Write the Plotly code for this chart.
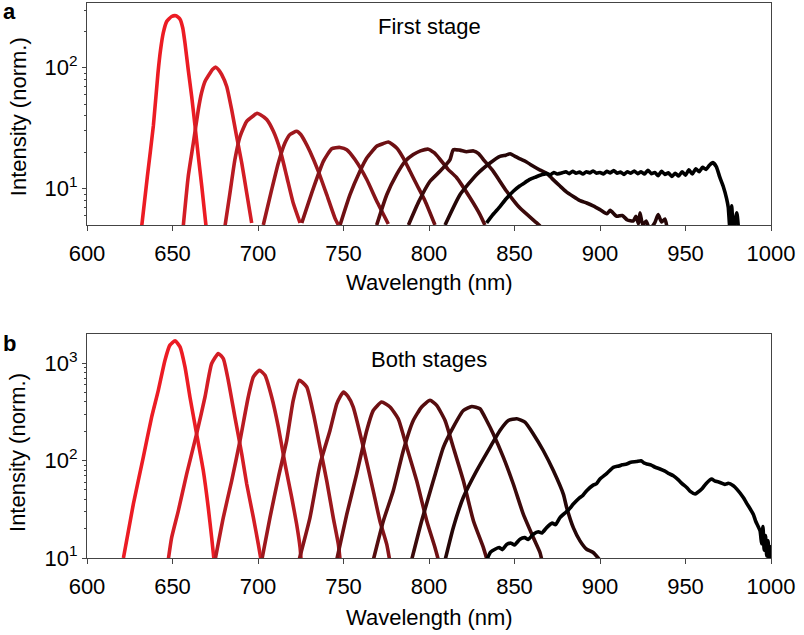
import plotly.graph_objects as go

# ---------------- data: panel a (first stage) ----------------
a_wl = [
    [632, 635.3, 638.8, 641.5, 643, 644.6, 646.6, 649.5, 652, 654.4, 656, 657.3, 659.2, 661.2, 663.2, 665.1, 667.1, 669.6],
    [656.3, 659.2, 662.2, 665.1, 667, 669, 671.9, 673.5, 675.4, 677, 678.8, 681.7, 684.6, 687.5, 690.5, 693.4, 696.3],
    [680.7, 683.6, 686.5, 689.5, 693.4, 697.3, 699.5, 701.2, 705.1, 709, 712.9, 716.8, 720.6, 724.6],
    [703.1, 708, 711.9, 715.8, 718.7, 722.6, 725, 727.5, 730.4, 735.3, 740.2, 745, 747],
    [725.6, 732.4, 738.2, 743.1, 745.5, 748, 751.9, 756.7, 763.6, 769.4, 776.2],
    [748, 753.8, 759.6, 763.6, 769.4, 773, 776.2, 781.1, 785, 788.9, 792.8, 797.7, 803.5],
    [769.4, 775.3, 781.1, 786, 790.8, 795, 799.6, 803, 806.4, 811, 816.2, 824, 829.8, 832.7],
    [788, 794, 800.6, 806.4, 812.3, 814.2, 818, 822, 826, 829, 831.8, 837.6, 845.4, 853.2, 863, 865],
    [809.4, 818.1, 827.9, 835.7, 841.5, 845, 847.4, 850.3, 853.2, 857, 861, 865, 868.8, 872, 876.6, 880, 884.4,
     888, 892.2, 896, 900, 904, 906, 909.8, 913, 916, 919.5, 921, 922.5, 923.4, 925, 927, 929, 932, 934, 936, 938, 939.5],
    [833.7, 837, 841.5, 845, 849.3, 853, 856, 859, 862, 865, 868.8, 871, 873, 875, 878, 880, 882, 884, 886, 888, 890,
     892, 894, 896, 898, 900, 902, 904, 906, 908, 910, 912, 914, 916, 918, 920, 922, 924, 926, 928, 930, 932, 934,
     936, 938, 940, 942, 944, 946, 948, 950, 952, 954, 956, 958, 960, 962, 964, 966, 968, 970, 972, 974, 975, 976,
     977, 978, 980, 981],
]
a_int = [
    [4.9, 12.6, 33, 90, 140, 194, 241, 265, 269, 252, 213, 160, 96, 58, 32.7, 18.5, 10.5, 4.9],
    [4.9, 12.6, 23.9, 45, 62, 77, 90, 97, 101, 96, 87.5, 70, 45, 27, 16.3, 9.2, 5.2],
    [4.9, 9.2, 17.4, 27, 36, 40, 42, 41, 37.3, 29.8, 21, 12.6, 7.6, 5.2],
    [5, 9.8, 16.3, 23.9, 28, 29.8, 28, 24.5, 20.3, 13.9, 8.9, 5.7, 5],
    [5.2, 10.1, 16.8, 21.4, 21.8, 21.9, 21, 17.4, 11.9, 7.9, 5.1],
    [5, 8.9, 13.9, 17.9, 22.4, 23.5, 24.3, 21.7, 17.9, 13.9, 10.8, 7.9, 5],
    [5, 8.9, 13.1, 16.8, 19.1, 20.5, 21.2, 19.8, 17.5, 14.5, 12.3, 8.4, 6.1, 5],
    [5, 7.8, 11.5, 13.9, 17.4, 21, 20.8, 20.2, 20.5, 19.5, 17.4, 13.9, 9.5, 6.9, 5.2, 4.9],
    [5, 8.9, 13.1, 16.3, 18.5, 18.9, 19.4, 18.5, 17.6, 16.6, 15.3, 14.2, 13.4, 12.1, 10.5, 9.5, 8.6,
     8.0, 7.6, 7.2, 6.7, 6.2, 6.6, 5.9, 6.0, 5.5, 5.4, 5.9, 5.1, 6.3, 5.0, 5.4, 4.6, 5.2, 6.1, 5.3, 5.6, 4.5],
    [5.2, 6.0, 7.1, 8.2, 9.5, 10.5, 11.2, 11.9, 12.4, 12.9, 13.3, 13.0, 13.6, 13.2, 13.5, 13.8, 13.3, 13.9, 13.4, 13.7, 13.2,
     13.8, 13.5, 14.0, 13.4, 13.6, 13.2, 13.9, 13.5, 14.1, 13.4, 13.7, 13.1, 13.8, 13.4, 14.0, 13.3, 13.8, 13.2, 14.2, 13.3, 13.6, 12.8,
     13.9, 13.1, 13.5, 12.6, 13.4, 12.7, 13.8, 12.9, 14.3, 13.2, 14.6, 13.8, 15.0, 14.4, 15.6, 16.4, 15.2, 12.5, 10.5, 8.3, 7.0, 4.6,
     7.2, 4.6, 6.3, 4.6],
]

# ---------------- data: panel b (both stages) ----------------
b_wl = [
    [621.3, 627.1, 632.9, 637.8, 641.7, 645.6, 648.5, 651.5, 654.4, 657.3, 660.2, 664.1, 668, 670.9, 672.9, 674.3],
    [647.5, 649.5, 653.4, 658.3, 664.1, 669, 672.9, 676.8, 679.7, 682.6, 686.5, 690.5, 693.4, 697.3, 700.2, 701.8],
    [674.9, 679.7, 684.6, 689.5, 694.3, 697.3, 700.8, 704.1, 708, 711.9, 715.8, 719.7, 722.6, 724.6, 725.2],
    [702.2, 707, 711.9, 716.8, 720.6, 724.2, 728.5, 732.4, 736.3, 740.2, 744, 747, 748],
    [724, 730.4, 736.3, 742.1, 746, 748, 749.9, 752.5, 755.7, 761.6, 767.4, 771.3, 775.3, 777],
    [746, 751.9, 757.7, 763.6, 767.4, 772.3, 777.2, 782, 787, 792.8, 798.7, 803.5, 805.5],
    [767.4, 773.3, 779.1, 785, 790.8, 795.7, 800.6, 804.5, 809.4, 814.2, 820.1, 826, 831.8, 834],
    [789.8, 795.7, 802.5, 808.4, 814.2, 820.1, 825, 829.8, 833.7, 837.6, 843.5, 849.3, 855.2, 861, 864.9, 866],
    [809.4, 814.2, 820.1, 827.9, 835.7, 841.5, 846.4, 851.3, 856.1, 861, 866.8, 872.7, 878.6, 880.5, 884.4, 888.3,
     892.2, 896, 900],
    [833.7, 836, 838.6, 841, 843, 845.4, 848, 850, 853.2, 856, 858, 861, 864, 866, 868.8, 872, 874, 876.6, 880, 882,
     884.4, 888, 890, 892.2, 896, 898, 900, 904, 907.8, 911, 913, 915.6, 918, 921.4, 924, 926, 927.3, 930, 932, 935.1,
     938, 940, 942.9, 946, 948, 950.7, 953, 955.6, 957, 959.5, 962, 965.3, 967, 970.2, 973, 975, 978, 980, 983.8, 986,
     989.7, 991, 993.6, 994.5, 995.3, 996, 996.8, 997.5, 998.3, 999, 999.6, 1000],
]
b_int = [
    [10, 35.8, 108, 280, 527, 1074, 1534, 1699, 1472, 916, 450, 188, 79, 33, 16.2, 9.5],
    [9.5, 16.2, 30.5, 73, 188, 450, 993, 1259, 1117, 668, 280, 117, 57.5, 26, 13.8, 9.5],
    [9.5, 26, 62, 161, 450, 723, 847, 752, 450, 221, 92.5, 41.9, 22.2, 12.8, 9.5],
    [9.5, 26, 67, 161, 416, 668, 570, 303, 137, 62, 26, 13.8, 9.5],
    [9.5, 26, 92, 204, 380, 450, 506, 460, 355, 137, 49, 24, 13.8, 9.5],
    [9.5, 28, 73, 204, 327, 399, 355, 269, 137, 62, 24, 12.8, 9.5],
    [9.5, 24, 49, 127, 258, 355, 416, 369, 258, 137, 62, 24, 12.8, 9.5],
    [9.5, 24, 62, 137, 221, 327, 360, 341, 258, 188, 108, 57.5, 28, 16.2, 11.4, 9.5],
    [9.5, 20.5, 42, 79, 137, 204, 258, 269, 248, 188, 127, 79, 45, 33, 20.5, 15, 12.3, 11.4, 9.5],
    [9.5, 11.5, 12.3, 12.8, 12.2, 13.8, 14.2, 13.6, 15.6, 16.2, 15.5, 17.5, 18.6, 18.1, 20.5, 22.8, 22.0, 26, 29.5, 31.8,
     35.8, 41.5, 44, 49, 56, 58, 64.7, 74, 85.3, 88, 90.5, 92.5, 96, 97.7, 99.5, 94, 92.5, 90, 86, 82,
     78, 74, 70, 63, 58, 53, 48, 45.4, 47, 51, 58, 64.7, 62, 59.7, 57, 58.5, 55.2, 51, 41.9, 36,
     28, 24, 19, 14, 21, 12, 17, 10.5, 15, 9, 13, 9],
]

colors = ["#ec1c24", "#d41d25", "#b81b22", "#9c181d", "#861419", "#6e1013", "#560d0f", "#3c0a0b", "#250607", "#000000"]

# ---------------- figure ----------------
fig = go.Figure()
for i in range(len(a_wl)):
    fig.add_trace(go.Scatter(x=a_wl[i], y=a_int[i], mode="lines", xaxis="x", yaxis="y",
                             line=dict(color=colors[i], width=3.6, shape="spline", smoothing=0.5),
                             showlegend=False, hoverinfo="skip"))
for i in range(len(b_wl)):
    fig.add_trace(go.Scatter(x=b_wl[i], y=b_int[i], mode="lines", xaxis="x2", yaxis="y2",
                             line=dict(color=colors[i], width=3.6, shape="spline", smoothing=0.5),
                             showlegend=False, hoverinfo="skip"))

font_family = "Liberation Sans, Arial, sans-serif"
axis_common = dict(showgrid=False, zeroline=False, showline=True, linecolor="#444", linewidth=1,
                   mirror=True, ticks="outside", tickcolor="#444",
                   tickfont=dict(family=font_family, size=22, color="black"))

xticks = [600, 650, 700, 750, 800, 850, 900, 950, 1000]

fig.update_layout(
    width=804, height=635,
    margin=dict(l=87, r=33, t=3, b=77),
    paper_bgcolor="white", plot_bgcolor="white",
    font=dict(family=font_family, size=22, color="black"),
    xaxis=dict(domain=[0, 1], range=[600, 1000], anchor="y", tickvals=xticks, ticklen=5,
               ticklabelstandoff=4, **axis_common),
    yaxis=dict(domain=[0.6, 1.0], type="log", range=[0.699, 2.535], anchor="x",
               tickvals=[10, 100], ticktext=["10<sup>1</sup>", "10<sup>2</sup>"], ticklen=4,
               minor=dict(tickvals=[6, 7, 8, 9, 20, 30, 40, 50, 60, 70, 80, 90, 200, 300],
                          ticks="outside", ticklen=2, tickcolor="#444"),
               **axis_common),
    xaxis2=dict(domain=[0, 1], range=[600, 1000], anchor="y2", tickvals=xticks, ticklen=5,
                ticklabelstandoff=4, **axis_common),
    yaxis2=dict(domain=[0, 0.4036], type="log", range=[1, 3.3], anchor="x2",
                tickvals=[10, 100, 1000], ticktext=["10<sup>1</sup>", "10<sup>2</sup>", "10<sup>3</sup>"],
                ticklen=4,
                minor=dict(tickvals=[20, 30, 40, 50, 60, 70, 80, 90, 200, 300, 400, 500, 600, 700, 800, 900, 2000],
                           ticks="outside", ticklen=2, tickcolor="#444"),
                **axis_common),
)

ann = dict(showarrow=False, font=dict(family=font_family, size=22, color="black"))
fig.add_annotation(text="Wavelength (nm)", xref="paper", yref="paper", x=0.5, y=0.4955,
                   xanchor="center", yanchor="middle", **ann)
fig.add_annotation(text="Wavelength (nm)", xref="paper", yref="paper", x=0.5, y=-0.108,
                   xanchor="center", yanchor="middle", **ann)
fig.add_annotation(text="Intensity (norm.)", xref="paper", yref="paper", x=-0.1009, y=0.796,
                   xanchor="center", yanchor="middle", textangle=-90, **ann)
fig.add_annotation(text="Intensity (norm.)", xref="paper", yref="paper", x=-0.1009, y=0.191,
                   xanchor="center", yanchor="middle", textangle=-90, **ann)
fig.add_annotation(text="First stage", xref="paper", yref="paper", x=0.5, y=0.957,
                   xanchor="center", yanchor="middle", **ann)
fig.add_annotation(text="Both stages", xref="paper", yref="paper", x=0.5, y=0.357,
                   xanchor="center", yanchor="middle", **ann)
fig.add_annotation(text="<b>a</b>", xref="paper", yref="paper", x=-0.1126, y=0.984,
                   xanchor="center", yanchor="middle", **ann)
fig.add_annotation(text="<b>b</b>", xref="paper", yref="paper", x=-0.1126, y=0.3856,
                   xanchor="center", yanchor="middle", **ann)

fig.write_html("out.html")
